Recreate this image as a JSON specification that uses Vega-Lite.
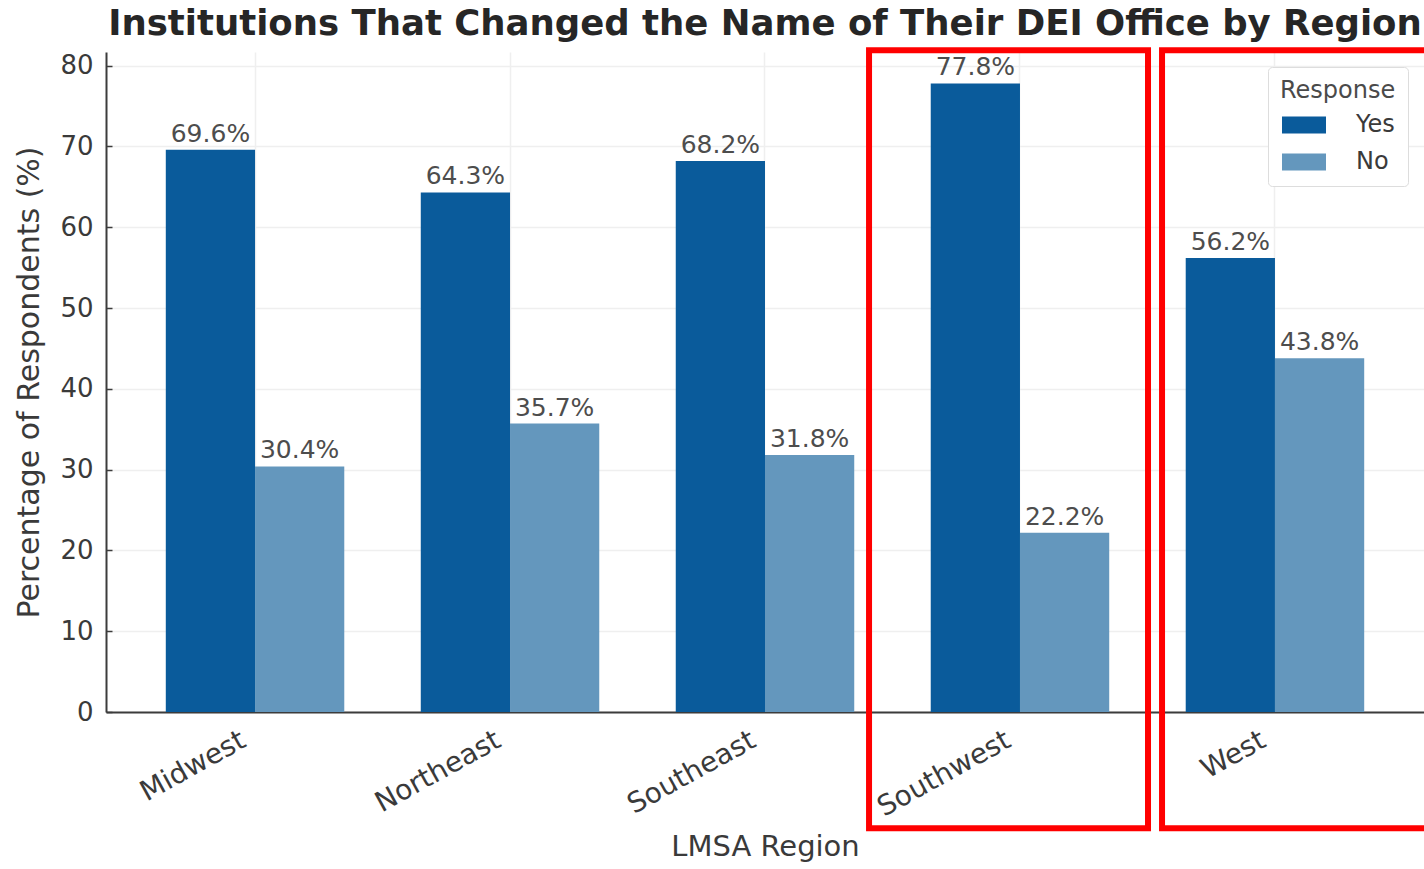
{
  "$schema": "https://vega.github.io/schema/vega-lite/v6.json",
  "autosize": {"type": "none"},
  "width": 1318,
  "height": 660,
  "padding": {"left": 106, "top": 52, "right": 0, "bottom": 157},
  "background": "white",
  "config": {
    "font": "DejaVu Sans",
    "view": {"stroke": null},
    "axis": {
      "labelFont": "DejaVu Sans",
      "titleFont": "DejaVu Sans",
      "labelColor": "#3a3a3a",
      "titleColor": "#3a3a3a",
      "domainColor": "#3c3c3c",
      "domainWidth": 2,
      "gridColor": "#efefef",
      "gridWidth": 1.5
    }
  },
  "title": {
    "text": "Institutions That Changed the Name of Their DEI Office by Region",
    "font": "DejaVu Sans",
    "fontSize": 35.5,
    "fontWeight": "bold",
    "color": "#262626",
    "anchor": "middle",
    "offset": 5
  },
  "datasets": {
    "bars": [
      {"Region": "Midwest", "Response": "Yes", "value": 69.6, "label": "69.6%"},
      {"Region": "Midwest", "Response": "No", "value": 30.4, "label": "30.4%"},
      {"Region": "Northeast", "Response": "Yes", "value": 64.3, "label": "64.3%"},
      {"Region": "Northeast", "Response": "No", "value": 35.7, "label": "35.7%"},
      {"Region": "Southeast", "Response": "Yes", "value": 68.2, "label": "68.2%"},
      {"Region": "Southeast", "Response": "No", "value": 31.8, "label": "31.8%"},
      {"Region": "Southwest", "Response": "Yes", "value": 77.8, "label": "77.8%"},
      {"Region": "Southwest", "Response": "No", "value": 22.2, "label": "22.2%"},
      {"Region": "West", "Response": "Yes", "value": 56.2, "label": "56.2%"},
      {"Region": "West", "Response": "No", "value": 43.8, "label": "43.8%"}
    ],
    "boxes": [
      {"box": "Southwest", "x1": 2.408, "x2": 3.502, "y1": -14.4, "y2": 81.9},
      {"box": "West", "x1": 3.557, "x2": 4.75, "y1": -14.4, "y2": 81.9}
    ]
  },
  "layer": [
    {
      "data": {"name": "bars"},
      "layer": [
        {
          "mark": {"type": "bar"},
          "encoding": {
            "x": {
              "field": "Region", "type": "nominal",
              "scale": {"paddingInner": 0.3, "paddingOuter": 0.2345},
              "axis": {
                "title": "LMSA Region",
                "titleFontSize": 29,
                "titleFontWeight": "normal",
                "titlePadding": 11,
                "labelFontSize": 28,
                "labelAngle": -29,
                "labelAlign": "right",
                "labelBaseline": "top",
                "labelPadding": 14,
                "labelOffset": -18,
                "ticks": false,
                "grid": true
              }
            },
            "xOffset": {"field": "Response", "type": "nominal", "sort": ["Yes", "No"], "scale": {"paddingInner": 0, "paddingOuter": 0}},
            "y": {
              "field": "value", "type": "quantitative",
              "scale": {"domain": [0, 81.69], "nice": false, "zero": true},
              "axis": {
                "title": "Percentage of Respondents (%)",
                "titleFontSize": 30,
                "titleFontWeight": "normal",
                "titlePadding": 15,
                "labelFontSize": 26,
                "values": [0, 10, 20, 30, 40, 50, 60, 70, 80],
                "tickSize": -6,
                "tickColor": "#3c3c3c",
                "tickWidth": 1.5,
                "labelPadding": 19,
                "grid": true
              }
            },
            "color": {
              "field": "Response", "type": "nominal",
              "sort": ["Yes", "No"],
              "scale": {"domain": ["Yes", "No"], "range": ["#0a5b9b", "#6497bd"]},
              "legend": {
                "title": "Response",
                "orient": "none",
                "legendX": 1162,
                "legendY": 15,
                "titleFontSize": 24,
                "titleFontWeight": "normal",
                "titleColor": "#4a4a4a",
                "titlePadding": 10,
                "labelFontSize": 24,
                "labelColor": "#3a3a3a",
                "symbolType": "M-2.2,-0.85H2.2V0.85H-2.2Z",
                "symbolSize": 400,
                "symbolStrokeWidth": 0,
                "symbolOffset": 12,
                "labelOffset": 40,
                "rowPadding": 13,
                "fillColor": "white",
                "strokeColor": "#dddddd",
                "cornerRadius": 4,
                "padding": 12
              }
            }
          }
        },
        {
          "mark": {"type": "text", "baseline": "alphabetic", "dy": -8, "fontSize": 25, "color": "#4d4d4d", "font": "DejaVu Sans"},
          "encoding": {
            "x": {"field": "Region", "type": "nominal"},
            "xOffset": {"field": "Response", "type": "nominal", "sort": ["Yes", "No"]},
            "y": {"field": "value", "type": "quantitative"},
            "text": {"field": "label"}
          }
        }
      ]
    },
    {
      "data": {"name": "boxes"},
      "mark": {"type": "rect", "fill": null, "fillOpacity": 0, "stroke": "#ff0000", "strokeWidth": 6, "clip": false},
      "encoding": {
        "x": {"field": "x1", "type": "quantitative", "scale": {"domain": [-0.5843, 4.5843], "nice": false, "zero": false}, "axis": null},
        "x2": {"field": "x2"},
        "y": {"field": "y1", "type": "quantitative"},
        "y2": {"field": "y2"}
      }
    }
  ],
  "resolve": {"scale": {"x": "independent"}, "axis": {"x": "independent"}}
}
